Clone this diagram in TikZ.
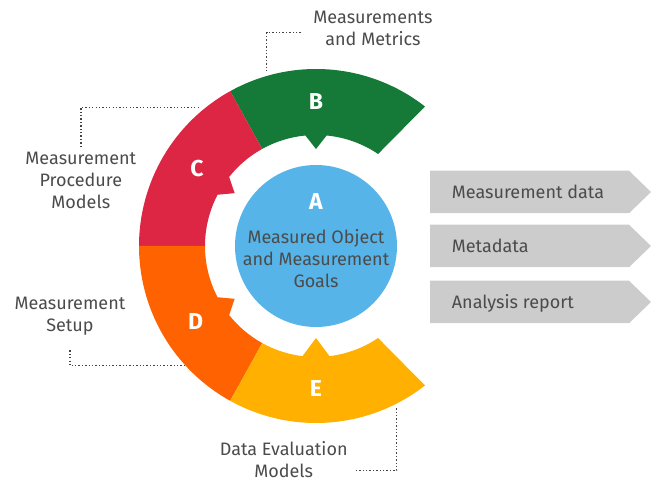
\documentclass[tikz,border=0pt]{standalone}
\usepackage{fontspec}
\setmainfont{Fira Sans}
\usepackage{tikz}
\definecolor{segB}{HTML}{157A38}
\definecolor{segC}{HTML}{DC2644}
\definecolor{segD}{HTML}{FF6200}
\definecolor{segE}{HTML}{FFB000}
\definecolor{objblue}{HTML}{56B4E9}
\definecolor{boxgray}{HTML}{CCCCCC}
\definecolor{textgray}{HTML}{4B4B4B}
\definecolor{dotgray}{HTML}{444444}

\begin{document}
\begin{tikzpicture}[x=1pt,y=1pt,
    txt/.style={text=textgray,font=\fontsize{18}{22}\selectfont,inner sep=0pt,align=center},
    letter/.style={text=white,font=\fontsize{23}{26}\selectfont\bfseries,inner sep=0pt},
    leader/.style={draw=dotgray,line width=1.4pt,dash pattern=on 1.3pt off 2.1pt}]
  \tikzstyle{outbox}=[fill=boxgray]

  \useasboundingbox (0,0) rectangle (655,481);
  \coordinate (O) at (316,235);

  \begin{scope}[shift={(O)}]
    \fill[segB] (119:177) arc[start angle=119,end angle=52,radius=177] -- (56:111)
      arc[start angle=56,end angle=84.5,radius=111] -- (90:97) -- (95.5:111)
      arc[start angle=95.5,end angle=119,radius=111] -- cycle;
    \fill[segC] (180:177) arc[start angle=180,end angle=119,radius=177] -- (119:111)
      arc[start angle=119,end angle=141.5,radius=111] -- (147:97) -- (152.5:111)
      arc[start angle=152.5,end angle=180,radius=111] -- cycle;
    \fill[segD] (180:177) arc[start angle=180,end angle=241,radius=177] -- (241:111)
      arc[start angle=241,end angle=218.5,radius=111] -- (213:97) -- (207.5:111)
      arc[start angle=207.5,end angle=180,radius=111] -- cycle;
    \fill[segE] (241:177) arc[start angle=241,end angle=308,radius=177] -- (304:111)
      arc[start angle=304,end angle=277,radius=111] -- (270:92) -- (263:111)
      arc[start angle=263,end angle=241,radius=111] -- cycle;

    \node[circle,fill=objblue,minimum size=162pt,inner sep=0pt] (A) at (0,0) {};
    \node[letter] (lA) at (0,44) {A};
    \node[txt] (tA) at (0,-13) {Measured Object\\and Measurement\\Goals};

    \node[letter] (lB) at (90:144) {B};
    \node[letter] (lC) at (147:142) {C};
    \node[letter] (lD) at (212:142) {D};
    \node[letter] (lE) at (270:143) {E};
  \end{scope}

  \foreach \y/\t/\n in {289/Measurement data/o1,235/Metadata/o2,179/Analysis report/o3} {
    \fill[outbox] (430,\y+21.25) -- (629,\y+21.25) -- (651,\y) -- (629,\y-21.25)
      -- (430,\y-21.25) -- cycle;
    \node[txt,anchor=base west] (\n) at (451.7,\y-6.8) {\t};
  }

  \node[txt] (mB) at (373,453) {Measurements\\and Metrics};
  \node[txt] (mC) at (80.8,300.5) {Measurement\\Procedure\\Models};
  \node[txt] (mD) at (70,165) {Measurement\\Setup};
  \node[txt] (mE) at (283.7,21) {Data Evaluation\\Models};

  \coordinate (rB) at (266.7,410.3);
  \coordinate (rC) at (198.3,373.7);
  \coordinate (rD) at (185,115.3);
  \coordinate (rE) at (396.7,72.7);

  \draw[leader] ([xshift=-12.5pt,yshift=-4.7pt]mB.west) -| (rB);
  \draw[leader] ([yshift=5pt]mC.north) |- (rC);
  \draw[leader] ([yshift=-15pt]mD.south) |- (rD);
  \draw[leader] (rE) |- ([xshift=8pt,yshift=-10.7pt]mE.east);
\end{tikzpicture}
\end{document}
